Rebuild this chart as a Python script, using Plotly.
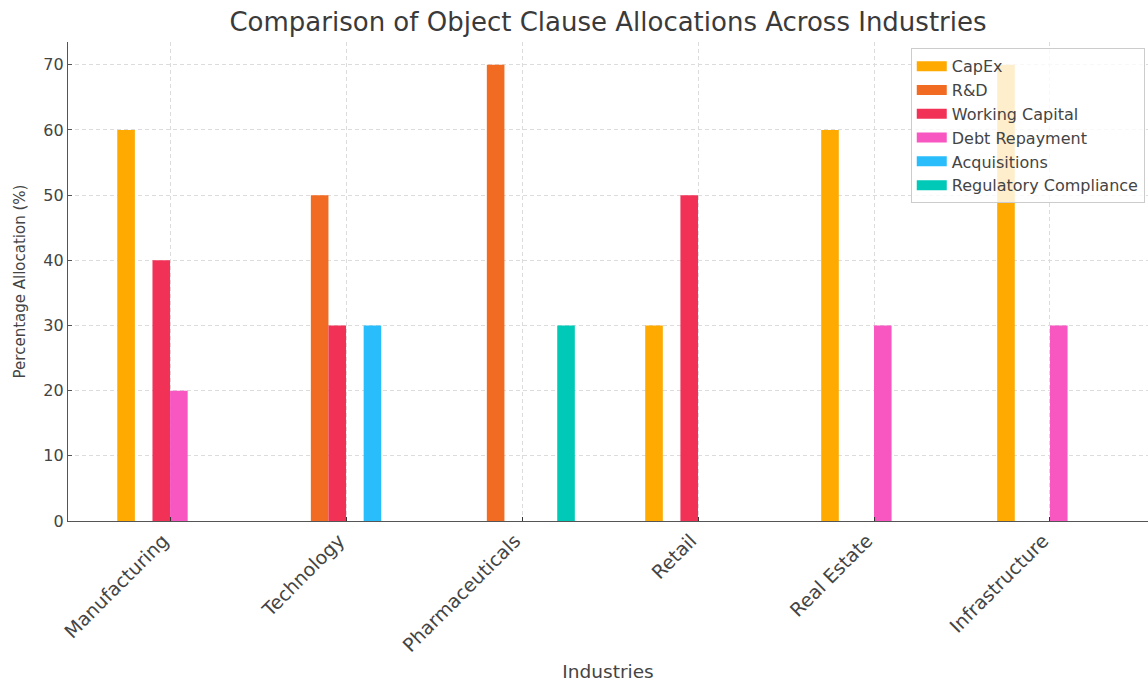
import plotly.graph_objects as go

industries = ["Manufacturing", "Technology", "Pharmaceuticals", "Retail", "Real Estate", "Infrastructure"]
series_names = ["CapEx", "R&D", "Working Capital", "Debt Repayment", "Acquisitions", "Regulatory Compliance"]

capex = [60, 0, 0, 30, 60, 70]
rnd = [0, 50, 70, 0, 0, 0]
working_capital = [40, 30, 0, 50, 0, 0]
debt_repayment = [20, 0, 0, 0, 30, 30]
acquisitions = [0, 30, 0, 0, 0, 0]
regulatory = [0, 0, 30, 0, 0, 0]

series_values = [capex, rnd, working_capital, debt_repayment, acquisitions, regulatory]
colors = ["#FFAA00", "#F26B22", "#F23157", "#F857C1", "#29BDFB", "#00C9B8"]

y_ticks = [0, 10, 20, 30, 40, 50, 60, 70]

FONT = "DejaVu Sans, Verdana, sans-serif"
GRID = "#dcdcdc"

fig = go.Figure()
for name, vals, col in zip(series_names, series_values, colors):
    fig.add_trace(go.Bar(
        x=industries, y=vals, name=name,
        marker=dict(color=col, line=dict(width=0)),
        showlegend=False,
    ))
    # rectangular legend handle
    fig.add_trace(go.Scatter(
        x=[None], y=[None], mode="lines", name=name,
        line=dict(color=col, width=10),
    ))

fig.update_layout(
    width=1148, height=682,
    margin=dict(l=68, r=0, t=42, b=161),
    paper_bgcolor="white", plot_bgcolor="white",
    barmode="group", bargap=0.4, bargroupgap=0,
    font=dict(family=FONT, color="#444444"),
    title=dict(
        text="Comparison of Object Clause Allocations Across Industries",
        x=0.5, xref="paper", y=0.968, yanchor="middle",
        font=dict(size=26, color="#3a3a3a", family=FONT),
    ),
    xaxis=dict(
        range=[-0.58, 5.557],
        tickangle=-45, tickfont=dict(size=19, color="#444444"),
        ticklabelshift=-7,
        showgrid=True, gridcolor=GRID, griddash="4px,3px", gridwidth=1,
        showline=True, linecolor="#555555", linewidth=1.3,
        ticks="inside", ticklen=4, tickcolor="#333333",
        title=dict(text="Industries", font=dict(size=18.5, color="#444444"), standoff=16),
        zeroline=False, automargin=False,
    ),
    yaxis=dict(
        range=[0, 73.5],
        tickmode="array", tickvals=y_ticks,
        tickfont=dict(size=16, color="#444444"),
        showgrid=True, gridcolor=GRID, griddash="4px,3px", gridwidth=1,
        showline=True, linecolor="#555555", linewidth=1.3,
        ticks="inside", ticklen=4, tickcolor="#555555",
        title=dict(text="Percentage Allocation (%)", font=dict(size=15, color="#444444"), standoff=14),
        zeroline=False, automargin=False,
    ),
    legend=dict(
        x=0.997, xanchor="right", y=0.987, yanchor="top",
        bgcolor="rgba(255,255,255,0.8)", bordercolor="#cccccc", borderwidth=1,
        font=dict(size=16, color="#444444", family=FONT),
        itemwidth=30,
    ),
)

fig.write_html("out.html")
